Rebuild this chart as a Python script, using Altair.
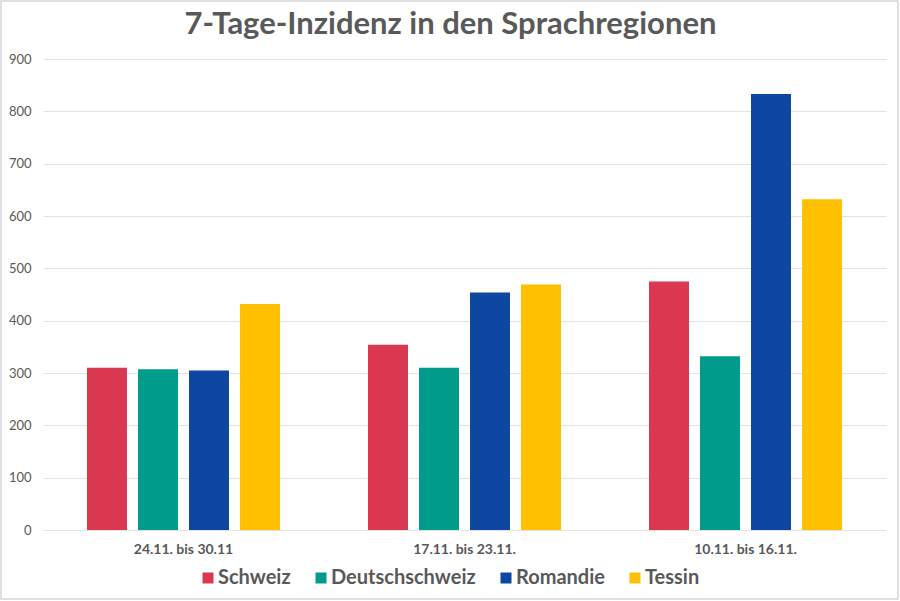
import altair as alt
import pandas as pd

weeks = ["24.11. bis 30.11", "17.11. bis 23.11.", "10.11. bis 16.11."]
regions = ["Schweiz", "Deutschschweiz", "Romandie", "Tessin"]
schweiz = [310, 354, 475]
deutschschweiz = [307, 310, 332]
romandie = [305, 454, 833]
tessin = [432, 469, 632]
colors = ["#DA3750", "#009B8A", "#0D47A1", "#FFC000"]

series = [schweiz, deutschschweiz, romandie, tessin]
rows = []
for r, vals in zip(regions, series):
    for w, v in zip(weeks, vals):
        rows.append({"Woche": w, "Region": r, "Wert": v})
df = pd.DataFrame(rows)

FONT = "Lato"
GRAY = "#595959"

bars = alt.Chart(df).mark_bar().encode(
    x=alt.X("Woche:N", sort=weeks, title=None,
            scale=alt.Scale(paddingInner=0.274, paddingOuter=0.137),
            axis=alt.Axis(labelAngle=0, labelFont=FONT, labelFontSize=14,
                          labelFontWeight="bold", labelColor=GRAY,
                          labelPadding=12, ticks=False, domain=False)),
    xOffset=alt.XOffset("Region:N", sort=regions,
                        scale=alt.Scale(paddingInner=0.216, paddingOuter=0.108)),
    y=alt.Y("Wert:Q", title=None,
            scale=alt.Scale(domain=[0, 900], nice=False),
            axis=alt.Axis(values=list(range(0, 901, 100)), labelFont=FONT,
                          labelFontSize=13, labelColor=GRAY, labelPadding=12,
                          ticks=False, domain=False, gridColor="#e3e3e3")),
    color=alt.Color("Region:N", sort=regions,
                    scale=alt.Scale(domain=regions, range=colors),
                    legend=alt.Legend(title=None, orient="none", direction="horizontal",
                                      legendX=155, legendY=509,
                                      symbolType="square", symbolSize=121,
                                      symbolStrokeWidth=0,
                                      labelFont=FONT, labelFontSize=20,
                                      labelFontWeight="bold", labelColor=GRAY,
                                      columnPadding=20, labelOffset=0)),
)

frame = alt.Chart(pd.DataFrame({"f": [0]})).mark_rect(
    fill=None, stroke="#d6d6d6", strokeWidth=1.5
).encode(x=alt.value(-42), x2=alt.value(855), y=alt.value(-58), y2=alt.value(540))

chart = alt.layer(bars, frame).properties(
    width=843, height=471,
    title=alt.TitleParams("7-Tage-Inzidenz in den Sprachregionen", font=FONT,
                          fontSize=31, fontWeight="bold", color=GRAY,
                          anchor="middle", offset=11, dx=-14, dy=52),
    autosize=alt.AutoSizeParams(type="none"),
    padding={"left": 43, "top": 59, "right": 14, "bottom": 71},
).configure(background="white").configure_view(stroke=None)

chart.save("out.html", embed_options={"renderer": "svg", "actions": False})
